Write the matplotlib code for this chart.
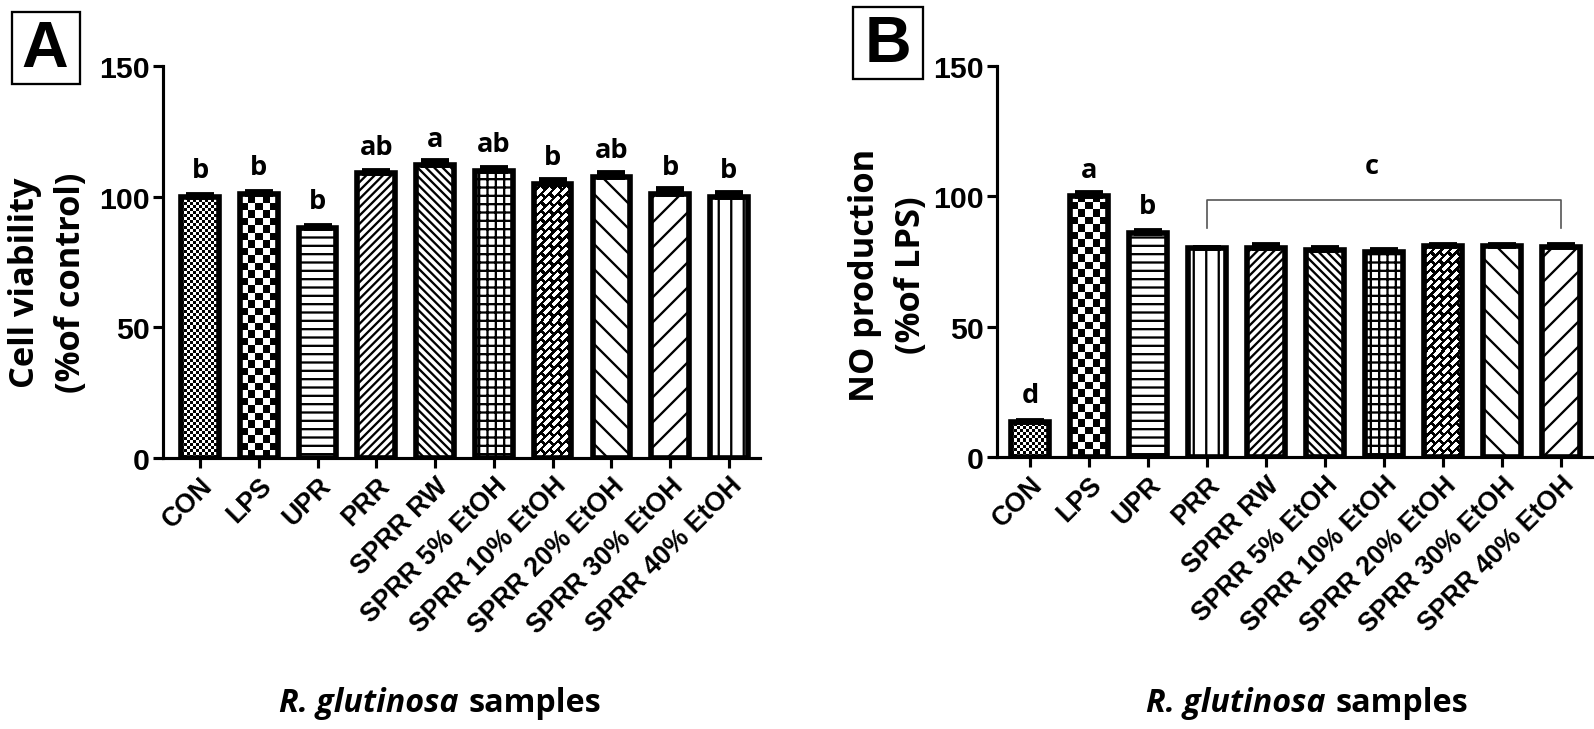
import numpy as np
import matplotlib
matplotlib.use("Agg")
import matplotlib.pyplot as plt
from matplotlib.patches import Rectangle
from matplotlib.offsetbox import TextArea, HPacker, AnnotationBbox
from matplotlib import font_manager

# ---------------- data ----------------
categories = ["CON", "LPS", "UPR", "PRR", "SPRR RW", "SPRR 5% EtOH",
              "SPRR 10% EtOH", "SPRR 20% EtOH", "SPRR 30% EtOH", "SPRR 40% EtOH"]

viability = [100.0, 101.0, 88.0, 109.0, 112.0, 110.0, 105.0, 107.5, 101.0, 100.0]
viability_sem = [0.6, 0.8, 0.8, 1.0, 1.5, 1.0, 1.4, 1.4, 1.8, 1.3]
viability_letters = ["b", "b", "b", "ab", "a", "ab", "b", "ab", "b", "b"]

no_production = [13.5, 100.0, 86.0, 80.0, 80.0, 79.5, 78.5, 81.0, 81.0, 80.5]
no_sem = [0.4, 1.2, 0.8, 0.3, 1.2, 0.8, 0.8, 0.4, 0.4, 1.0]
no_letters = ["d", "a", "b", "", "", "", "", "", "", ""]
no_group_c = [3, 4, 5, 6, 7, 8, 9]
no_group_label = "c"

yticks = [0, 50, 100, 150]

# ---------------- style ----------------
DPI = 150
plt.rcParams["hatch.linewidth"] = 1.1
TICK_FONT = "Liberation Sans"
TEXT_FONT = "Open Sans"
_names = {f.name for f in font_manager.fontManager.ttflist}
if "Liberation Sans Narrow" in _names:
    CAT_FONT, CAT_SIZE = "Liberation Sans Narrow", 15
else:
    CAT_FONT, CAT_SIZE = "Liberation Sans", 12.8

fills_A = ["fine", "checker", "---", "//////", "\\\\\\\\\\\\", "+++", "brick", "\\\\", "//", "||"]
fills_B = ["fine", "checker", "---", "||", "//////", "\\\\\\\\\\\\", "+++", "brick", "\\\\", "//"]


def make_pattern(kind, w, h):
    yy, xx = np.mgrid[0:h, 0:w].astype(float)
    if kind == "fine":
        c = 3.0
        return (np.floor(xx / c) + np.floor(yy / c)) % 2
    if kind == "checker":
        c = 7.5
        return (np.floor(xx / c) + np.floor(yy / c)) % 2
    # brick
    u = (xx + yy) / np.sqrt(2)
    v = (xx - yy) / np.sqrt(2)
    P, L = 6.0, 12.0
    row = np.floor(v / P)
    white = ((v % P) < 3.6) & (((u + (row % 2) * L / 2) % L) < 9.0)
    return (~white).astype(float)


fig = plt.figure(figsize=(1594 / DPI, 730 / DPI), dpi=DPI)
axA = fig.add_axes([163 / 1594, 271 / 730, 597 / 1594, 392 / 730])
axB = fig.add_axes([997 / 1594, 272 / 730, 595 / 1594, 391 / 730])

BAR_W = 0.64


def draw_panel(ax, values, sems, letters, fills, xlim):
    n = len(categories)
    x = np.arange(n)
    ax.set_xlim(*xlim)
    ax.set_ylim(0, 150)
    bars = ax.bar(x, values, width=BAR_W, color="white", edgecolor="black",
                  linewidth=0, zorder=2)
    for b, f in zip(bars, fills):
        if f in ("fine", "checker", "brick"):
            x0, x1 = b.get_x(), b.get_x() + b.get_width()
            y0, y1 = 0, b.get_height()
            (px0, py0), (px1, py1) = ax.transData.transform([(x0, y0), (x1, y1)])
            w = max(int(round(px1 - px0)), 1)
            h = max(int(round(py1 - py0)), 1)
            img = make_pattern(f, w, h)
            im = ax.imshow(img, extent=(x0, x1, y0, y1), origin="lower", cmap="gray_r",
                           vmin=0, vmax=1, interpolation="nearest", aspect="auto", zorder=2.1)
            im.set_clip_path(b)
        else:
            b.set_hatch(f)
    ax.bar(x, values, width=BAR_W, fill=False, edgecolor="black", linewidth=2.7, zorder=3)
    ax.errorbar(x, values, yerr=[np.zeros(n), sems], fmt="none", ecolor="black",
                elinewidth=2.4, capsize=6.5, capthick=2.8, zorder=3.5)
    for i, lab in enumerate(letters):
        if lab:
            ax.text(x[i], values[i] + 7.5, lab, ha="center", va="baseline",
                    fontsize=13, fontweight="bold", family=TEXT_FONT)
    ax.set_xlim(*xlim)
    ax.set_ylim(0, 150)
    for s in ("top", "right"):
        ax.spines[s].set_visible(False)
    for s in ("left", "bottom"):
        ax.spines[s].set_linewidth(1.5)
    ax.set_yticks(yticks)
    ax.set_yticklabels([str(t) for t in yticks], fontsize=14.5, fontweight="bold", family=TICK_FONT)
    ax.set_xticks(x)
    ax.set_xticklabels(categories, rotation=45, ha="right", va="top",
                       rotation_mode="anchor", fontsize=CAT_SIZE, fontweight="bold",
                       family=CAT_FONT)
    ax.tick_params(axis="both", direction="out", length=4.8, width=1.5)
    ax.tick_params(axis="y", pad=1.5)
    ax.tick_params(axis="x", pad=2.0)


def xlabel(ax, xc, yc):
    t1 = TextArea("R. glutinosa", textprops=dict(fontsize=15.5, fontweight="bold",
                                                  style="italic", family=TEXT_FONT))
    t2 = TextArea("samples", textprops=dict(fontsize=15.5, fontweight="bold", family=TEXT_FONT))
    box = HPacker(children=[t1, t2], align="baseline", pad=0, sep=4.5)
    ab = AnnotationBbox(box, (xc, yc), xycoords="axes fraction", frameon=False,
                        box_alignment=(0.5, 0.5), annotation_clip=False)
    ax.add_artist(ab)


draw_panel(axA, viability, viability_sem, viability_letters, fills_A, (-0.63, 9.53))
draw_panel(axB, no_production, no_sem, no_letters, fills_B, (-0.56, 9.53))

# bracket for group c in panel B
g_top = max(no_production[i] for i in no_group_c)
bx = [no_group_c[0], no_group_c[0], no_group_c[-1], no_group_c[-1]]
by = [g_top + 6.7, g_top + 17.5, g_top + 17.5, g_top + 6.7]
axB.plot(bx, by, color="#555555", lw=0.8, zorder=4, clip_on=False)
axB.text(np.mean(no_group_c) - 0.2, g_top + 27.8, no_group_label, ha="center", va="baseline",
         fontsize=13, fontweight="bold", family=TEXT_FONT)

# y labels
axA.text(-0.193, 0.449, "Cell viability\n(%of control)", transform=axA.transAxes, rotation=90,
         ha="center", va="center", multialignment="center", linespacing=1.45,
         fontsize=16.5, fontweight="bold", family=TEXT_FONT)
axB.text(-0.183, 0.467, "NO production\n(%of LPS)", transform=axB.transAxes, rotation=90,
         ha="center", va="center", multialignment="center", linespacing=1.45,
         fontsize=16.5, fontweight="bold", family=TEXT_FONT)

xlabel(axA, 0.464, -0.625)
xlabel(axB, 0.521, -0.628)

# panel tags
for (bx0, by0, bw, bh), (tx, ty), tag in [((12, 13, 68, 72), (45, 50), "A"),
                                         ((853, 8, 70, 72), (888, 45), "B")]:
    fig.patches.append(Rectangle((bx0 / 1594, 1 - (by0 + bh) / 730), bw / 1594, bh / 730,
                                 transform=fig.transFigure, fill=False, lw=1.1, ec="black"))
    fig.text(tx / 1594, 1 - ty / 730, tag, ha="center", va="center", fontsize=31,
             fontweight="bold", family=TICK_FONT)

fig.savefig("out.png", dpi=DPI, facecolor="white")
